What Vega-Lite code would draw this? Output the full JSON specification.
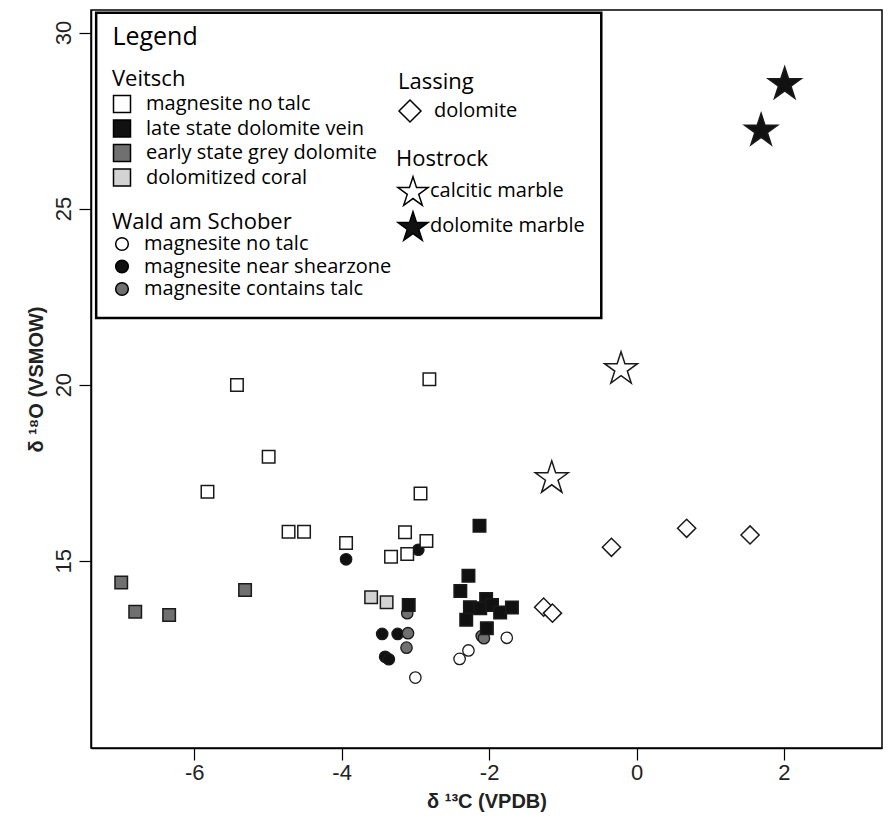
{
  "$schema": "https://vega.github.io/schema/vega-lite/v6.json",
  "width": 791,
  "height": 738,
  "autosize": {"type": "none"},
  "padding": {"left": 91, "top": 10, "right": 6, "bottom": 70},
  "background": "white",
  "datasets": {
    "pts": [
      {"group": "Veitsch", "type": "magnesite no talc", "c13": -5.42, "o18": 19.99},
      {"group": "Veitsch", "type": "magnesite no talc", "c13": -2.81, "o18": 20.15},
      {"group": "Veitsch", "type": "magnesite no talc", "c13": -4.99, "o18": 17.95},
      {"group": "Veitsch", "type": "magnesite no talc", "c13": -5.82, "o18": 16.96},
      {"group": "Veitsch", "type": "magnesite no talc", "c13": -2.93, "o18": 16.91},
      {"group": "Veitsch", "type": "magnesite no talc", "c13": -4.72, "o18": 15.82},
      {"group": "Veitsch", "type": "magnesite no talc", "c13": -4.51, "o18": 15.82},
      {"group": "Veitsch", "type": "magnesite no talc", "c13": -3.94, "o18": 15.5},
      {"group": "Veitsch", "type": "magnesite no talc", "c13": -3.14, "o18": 15.81},
      {"group": "Veitsch", "type": "magnesite no talc", "c13": -2.85, "o18": 15.56},
      {"group": "Veitsch", "type": "magnesite no talc", "c13": -3.33, "o18": 15.11},
      {"group": "Veitsch", "type": "magnesite no talc", "c13": -3.11, "o18": 15.19},
      {"group": "Veitsch", "type": "late state dolomite vein", "c13": -3.09, "o18": 13.74},
      {"group": "Veitsch", "type": "late state dolomite vein", "c13": -2.13, "o18": 15.99},
      {"group": "Veitsch", "type": "late state dolomite vein", "c13": -2.28, "o18": 14.57},
      {"group": "Veitsch", "type": "late state dolomite vein", "c13": -2.39, "o18": 14.14},
      {"group": "Veitsch", "type": "late state dolomite vein", "c13": -2.04, "o18": 13.91},
      {"group": "Veitsch", "type": "late state dolomite vein", "c13": -2.26, "o18": 13.68},
      {"group": "Veitsch", "type": "late state dolomite vein", "c13": -2.12, "o18": 13.65},
      {"group": "Veitsch", "type": "late state dolomite vein", "c13": -1.96, "o18": 13.74},
      {"group": "Veitsch", "type": "late state dolomite vein", "c13": -1.85, "o18": 13.53},
      {"group": "Veitsch", "type": "late state dolomite vein", "c13": -1.69, "o18": 13.67},
      {"group": "Veitsch", "type": "late state dolomite vein", "c13": -2.31, "o18": 13.32},
      {"group": "Veitsch", "type": "late state dolomite vein", "c13": -2.03, "o18": 13.08},
      {"group": "Veitsch", "type": "early state grey dolomite", "c13": -6.99, "o18": 14.38},
      {"group": "Veitsch", "type": "early state grey dolomite", "c13": -6.8, "o18": 13.55},
      {"group": "Veitsch", "type": "early state grey dolomite", "c13": -6.34, "o18": 13.46},
      {"group": "Veitsch", "type": "early state grey dolomite", "c13": -5.31, "o18": 14.17},
      {"group": "Veitsch", "type": "dolomitized coral", "c13": -3.6, "o18": 13.96},
      {"group": "Veitsch", "type": "dolomitized coral", "c13": -3.39, "o18": 13.82},
      {"group": "Wald", "type": "magnesite no talc", "c13": -3.0, "o18": 11.68},
      {"group": "Wald", "type": "magnesite no talc", "c13": -1.76, "o18": 12.81},
      {"group": "Wald", "type": "magnesite no talc", "c13": -2.28, "o18": 12.45},
      {"group": "Wald", "type": "magnesite no talc", "c13": -2.4, "o18": 12.21},
      {"group": "Wald", "type": "magnesite near shearzone", "c13": -3.94, "o18": 15.04},
      {"group": "Wald", "type": "magnesite near shearzone", "c13": -2.96, "o18": 15.31},
      {"group": "Wald", "type": "magnesite near shearzone", "c13": -3.45, "o18": 12.92},
      {"group": "Wald", "type": "magnesite near shearzone", "c13": -3.24, "o18": 12.92},
      {"group": "Wald", "type": "magnesite near shearzone", "c13": -3.41, "o18": 12.27},
      {"group": "Wald", "type": "magnesite near shearzone", "c13": -3.36, "o18": 12.2},
      {"group": "Wald", "type": "magnesite contains talc", "c13": -3.11, "o18": 13.51},
      {"group": "Wald", "type": "magnesite contains talc", "c13": -3.1, "o18": 12.94},
      {"group": "Wald", "type": "magnesite contains talc", "c13": -3.12, "o18": 12.53},
      {"group": "Wald", "type": "magnesite contains talc", "c13": -2.1, "o18": 12.86},
      {"group": "Wald", "type": "magnesite contains talc", "c13": -2.07, "o18": 12.8},
      {"group": "Lassing", "type": "dolomite", "c13": -1.26, "o18": 13.68},
      {"group": "Lassing", "type": "dolomite", "c13": -1.14, "o18": 13.51},
      {"group": "Lassing", "type": "dolomite", "c13": -0.34, "o18": 15.38},
      {"group": "Lassing", "type": "dolomite", "c13": 0.68, "o18": 15.92},
      {"group": "Lassing", "type": "dolomite", "c13": 1.54, "o18": 15.73},
      {"group": "Hostrock", "type": "calcitic marble", "c13": -0.21, "o18": 20.49},
      {"group": "Hostrock", "type": "calcitic marble", "c13": -1.15, "o18": 17.39},
      {"group": "Hostrock", "type": "dolomite marble", "c13": 2.01, "o18": 28.58},
      {"group": "Hostrock", "type": "dolomite marble", "c13": 1.69, "o18": 27.26}
    ]
  },
  "layer": [
    {
      "data": {"values": [{"label": "Legend"}]},
      "mark": {"type": "rect", "fill": "white", "stroke": "black", "strokeWidth": 2.5},
      "encoding": {
        "x": {"datum": -7.33, "type": "quantitative", "title": "δ ¹³C (VPDB)"},
        "x2": {"datum": -0.478},
        "y": {"datum": 30.56, "type": "quantitative", "title": "δ ¹⁸O (VSMOW)"},
        "y2": {"datum": 21.89}
      }
    },
    {
      "data": {"values": [{"label": "Legend"}]},
      "mark": {"type": "text", "align": "left", "baseline": "alphabetic", "font": "Open Sans", "fontSize": 25, "color": "black"},
      "encoding": {
        "text": {"field": "label"},
        "x": {"datum": -7.11, "type": "quantitative", "title": "δ ¹³C (VPDB)"},
        "y": {"datum": 29.65, "type": "quantitative", "title": "δ ¹⁸O (VSMOW)"}
      }
    },
    {
      "data": {"name": "pts"},
      "transform": [{"filter": "datum.group === 'Wald'"}],
      "mark": {"type": "point", "shape": "circle", "filled": true, "stroke": "#1a1a1a", "strokeWidth": 1.3, "size": 130, "opacity": 1},
      "encoding": {
        "x": {"field": "c13", "type": "quantitative", "title": "δ ¹³C (VPDB)", "scale": {"domain": [-7.4, 3.33], "nice": false, "zero": false}, "axis": {"values": [-6, -4, -2, 0, 2], "labelExpr": "datum.value < 0 ? '-' + abs(datum.value) : '' + datum.value"}},
        "y": {"field": "o18", "type": "quantitative", "title": "δ ¹⁸O (VSMOW)", "scale": {"domain": [9.68, 30.64], "nice": false, "zero": false}, "axis": {"values": [15, 20, 25, 30], "labelExpr": "'' + datum.value"}},
        "fill": {
          "field": "type", "type": "nominal",
          "scale": {"domain": ["magnesite no talc", "magnesite near shearzone", "magnesite contains talc"], "range": ["white", "#111111", "#707070"]},
          "legend": {"title": "Wald am Schober", "orient": "none", "legendX": 21, "legendY": 202, "symbolType": "circle", "symbolSize": 160, "titlePadding": 0, "rowPadding": 2.5, "labelOffset": 12}
        }
      }
    },
    {
      "data": {"name": "pts"},
      "transform": [{"filter": "datum.group === 'Veitsch'"}],
      "mark": {"type": "point", "shape": "square", "filled": true, "stroke": "#1a1a1a", "strokeWidth": 1.5, "size": 156, "opacity": 1},
      "encoding": {
        "x": {"field": "c13", "type": "quantitative", "title": "δ ¹³C (VPDB)"},
        "y": {"field": "o18", "type": "quantitative", "title": "δ ¹⁸O (VSMOW)"},
        "fill": {
          "field": "type", "type": "nominal",
          "scale": {"domain": ["magnesite no talc", "late state dolomite vein", "early state grey dolomite", "dolomitized coral"], "range": ["white", "#111111", "#707070", "#d3d3d3"]},
          "legend": {"title": "Veitsch", "orient": "none", "legendX": 21, "legendY": 59, "symbolType": "square", "symbolSize": 289, "titlePadding": 3, "rowPadding": 0.5, "labelOffset": 14}
        }
      }
    },
    {
      "data": {"name": "pts"},
      "transform": [{"filter": "datum.group === 'Lassing'"}],
      "mark": {"type": "point", "shape": "diamond", "filled": true, "stroke": "#1a1a1a", "strokeWidth": 1.5, "size": 330, "opacity": 1},
      "encoding": {
        "x": {"field": "c13", "type": "quantitative", "title": "δ ¹³C (VPDB)"},
        "y": {"field": "o18", "type": "quantitative", "title": "δ ¹⁸O (VSMOW)"},
        "fill": {
          "field": "type", "type": "nominal",
          "scale": {"domain": ["dolomite"], "range": ["white"]},
          "legend": {"title": "Lassing", "orient": "none", "legendX": 307, "legendY": 62, "symbolType": "diamond", "symbolSize": 484, "titlePadding": 5, "rowPadding": 4, "labelOffset": 12}
        }
      }
    },
    {
      "data": {"name": "pts"},
      "transform": [{"filter": "datum.group === 'Hostrock'"}],
      "mark": {"type": "point", "shape": "M0,-0.905L0.225,-0.214L0.951,-0.214L0.363,0.214L0.588,0.905L0,0.477L-0.588,0.905L-0.363,0.214L-0.951,-0.214L-0.225,-0.214Z", "filled": true, "stroke": "#1a1a1a", "strokeWidth": 1.5, "size": 1200, "opacity": 1},
      "encoding": {
        "x": {"field": "c13", "type": "quantitative", "title": "δ ¹³C (VPDB)"},
        "y": {"field": "o18", "type": "quantitative", "title": "δ ¹⁸O (VSMOW)"},
        "fill": {
          "field": "type", "type": "nominal",
          "scale": {"domain": ["calcitic marble", "dolomite marble"], "range": ["white", "#111111"]},
          "legend": {"title": "Hostrock", "orient": "none", "legendX": 305, "legendY": 139, "symbolType": "M0,-0.905L0.225,-0.214L0.951,-0.214L0.363,0.214L0.588,0.905L0,0.477L-0.588,0.905L-0.363,0.214L-0.951,-0.214L-0.225,-0.214Z", "symbolSize": 1000, "titlePadding": 3, "rowPadding": -7.5, "labelOffset": 0}
        }
      }
    }
  ],
  "resolve": {"scale": {"fill": "independent"}},
  "config": {
    "view": {"stroke": "black", "strokeWidth": 1.5},
    "axis": {
      "grid": false,
      "domainColor": "black",
      "domainWidth": 1.5,
      "tickColor": "black",
      "tickWidth": 1.2,
      "tickSize": 12,
      "labelFont": "'Liberation Sans Narrow', 'Liberation Sans', sans-serif",
      "labelFontSize": 22,
      "labelColor": "#222222",
      "labelPadding": 4,
      "titleFont": "'Liberation Sans Narrow', 'Liberation Sans', sans-serif",
      "titleFontSize": 20,
      "titleFontWeight": "bold",
      "titleColor": "#222222"
    },
    "axisX": {"titlePadding": 8, "labelPadding": 2},
    "axisY": {"labelAngle": -90, "labelAlign": "center", "labelBaseline": "bottom", "titlePadding": 6},
    "legend": {
      "titleFont": "Open Sans",
      "titleFontSize": 22,
      "titleFontWeight": "normal",
      "titleColor": "black",
      "labelFont": "Open Sans",
      "labelFontSize": 20,
      "labelColor": "black",
      "labelLimit": 400,
      "symbolStrokeColor": "black",
      "symbolStrokeWidth": 1.5,
      "symbolOpacity": 1
    }
  }
}
